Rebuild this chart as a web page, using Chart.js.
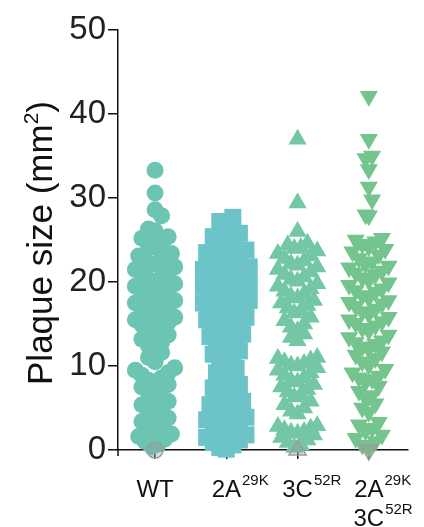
<!DOCTYPE html>
<html>
<head>
<meta charset="utf-8">
<script src="https://cdn.jsdelivr.net/npm/chart.js@4.4.1/dist/chart.umd.min.js"></script>
<style>
  html, body { margin: 0; padding: 0; background: #fff; }
  #wrap { width: 424px; height: 527px; }
</style>
</head>
<body>
<div id="wrap"><canvas id="grafica"></canvas></div>
<script>
const groups = ["WT", "2A29K", "3C52R", "2A29K 3C52R"];
const labelBase = [["WT"], ["2A"], ["3C"], ["2A", "3C"]];
const labelSup = [[""], ["29K"], ["52R"], ["29K", "52R"]];
const yTicks = [0, 10, 20, 30, 40, 50];

const wtValues = [
  33.3, 30.6, 28.6, 27.9, 26.3, 26.1, 25.4, 25.2, 24.6, 24.3, 24.1,
  23.4, 23.1, 22.8, 22.6, 22.3, 22.1,
  21.8, 21.5, 21.2, 20.9, 20.6, 20.3, 20.1,
  19.8, 19.5, 19.2, 18.9, 18.6, 18.3, 18.1,
  17.8, 17.5, 17.2, 16.9, 16.6, 16.3, 16.1,
  15.8, 15.5, 15.2, 14.9, 14.6, 14.3, 14.1,
  13.7, 13.2, 12.8, 12.4, 12.1, 11.6, 11.0, 10.5,
  9.8, 9.5, 9.2, 8.9, 8.6, 8.3, 8.1,
  7.8, 7.5, 7.2, 6.8, 6.4, 5.8, 5.4, 5.0, 4.6, 4.2,
  3.8, 3.4, 3.0, 2.6, 2.2, 1.9, 1.6, 1.3, 1.0, 0.7, 0.4
];
const a29kValues = [
  27.7, 27.2, 26.6, 25.8, 25.4, 25.0, 24.6, 24.2,
  23.8, 23.5, 23.2, 22.9, 22.6, 22.3, 22.0,
  21.8, 21.5, 21.3, 21.0, 20.7, 20.4, 20.2, 20.0,
  19.8, 19.5, 19.3, 19.0, 18.7, 18.5, 18.2, 18.0,
  17.8, 17.5, 17.2, 17.0, 16.7, 16.4, 16.2, 16.0,
  15.8, 15.5, 15.2, 15.0, 14.7, 14.4, 14.2,
  13.8, 13.5, 13.1, 12.8, 12.4, 12.1,
  11.8, 11.4, 11.0, 10.6, 10.2, 9.7, 9.2, 8.7, 8.2,
  7.8, 7.4, 7.0, 6.6, 6.2, 5.8, 5.4, 5.0, 4.7, 4.4, 4.1,
  3.9, 3.6, 3.3, 3.0, 2.7, 2.4, 2.1,
  1.8, 1.5, 1.2, 0.9, 0.6, 0.3, 0.1
];
const c52rValues = [
  37.0, 29.4, 26.0, 24.6, 24.4, 24.1, 24.0,
  23.7, 23.4, 23.1, 22.8, 22.5, 22.2, 22.0,
  21.8, 21.5, 21.2, 20.9, 20.6, 20.3, 20.1,
  19.8, 19.5, 19.2, 18.9, 18.6, 18.3, 18.1,
  17.8, 17.5, 17.2, 16.9, 16.6, 16.3,
  15.8, 15.4, 15.0, 14.6, 14.2, 13.8, 13.4, 13.0,
  11.0, 10.9, 10.7, 10.5, 10.3, 10.1, 10.0,
  9.8, 9.5, 9.2, 8.9, 8.6, 8.3, 8.1,
  7.8, 7.5, 7.2, 6.9, 6.6, 6.3, 5.8, 5.4, 5.0, 4.6, 4.3,
  2.9, 2.8, 2.6, 2.4, 2.2, 2.1, 2.0,
  1.8, 1.5, 1.2, 0.9, 0.6, 0.3
];
const doubleValues = [
  42.1, 37.0, 35.0, 34.7, 33.4, 31.3, 29.8, 28.0, 27.9,
  25.2, 25.0, 24.8, 24.5, 24.2, 23.9, 23.6, 23.2, 22.8, 22.4, 22.1,
  21.9, 21.7, 21.3, 21.1, 20.9, 20.5, 20.2,
  19.9, 19.6, 19.2, 19.0, 18.8, 18.4, 18.1,
  17.8, 17.6, 17.4, 17.1, 16.8, 16.5, 16.2,
  15.8, 15.5, 15.3, 15.1, 14.8, 14.5, 14.2,
  13.7, 13.4, 13.0, 12.8, 12.6, 12.3, 12.0,
  11.7, 11.3, 10.9, 10.5, 10.1,
  9.6, 9.2, 8.8, 8.6, 8.4, 8.1, 7.6, 7.0, 6.5, 6.2, 5.5, 5.0, 4.5,
  3.3, 3.0, 2.6, 2.3, 1.8, 1.4, 1.0, 0.6, 0.3
];
// plaques measured as zero, drawn in grey on the axis
const zeroValues = [0, null, 0, 0];

const series = [wtValues, a29kValues, c52rValues, doubleValues];
const groupColors = ["#6cc4b2", "#6cc3c8", "#73c7a5", "#74c58d"];
const pointStyles = ["circle", "rect", "triangle", "triangle"];
const rotations = [0, 0, 0, 180];
const radii = [8.5, 12, 10.5, 10.5];

const fontFamily = "'Liberation Sans', Arial, sans-serif";
const binSize = 2;      // value units per row of the swarm
const spread = 0.092;   // horizontal step between neighbours (group units)

// rows of points spread out from the centre, lowest value in the middle
function swarm(values) {
  const rows = {};
  values.forEach((v, i) => {
    const r = Math.floor(v / binSize);
    (rows[r] = rows[r] || []).push(i);
  });
  const dx = [];
  Object.values(rows).forEach(idx => {
    idx.sort((a, b) => values[a] - values[b]);
    const n = idx.length;
    idx.forEach((k, j) => {
      let pos;
      if (n % 2) pos = j === 0 ? 0 : (j % 2 ? -(j + 1) / 2 : j / 2);
      else pos = (j % 2 ? 1 : -1) * (Math.floor(j / 2) + 0.5);
      dx[k] = pos * spread;
    });
  });
  return dx;
}

const datasets = series.map((vals, g) => {
  const dx = swarm(vals);
  return {
    label: groups[g],
    data: vals.map((v, i) => ({ x: g + 1 + dx[i], y: v })),
    showLine: false,
    pointStyle: pointStyles[g],
    pointRotation: rotations[g],
    pointRadius: radii[g],
    pointBackgroundColor: groupColors[g],
    pointBorderWidth: 0,
    clip: false,
    order: 1
  };
});

const zeroIdx = zeroValues.map((v, g) => v === null ? -1 : g).filter(g => g >= 0);
datasets.unshift({
  label: "zero",
  data: zeroIdx.map(g => ({ x: g + 1, y: zeroValues[g] })),
  showLine: false,
  pointStyle: zeroIdx.map(g => pointStyles[g]),
  pointRotation: zeroIdx.map(g => rotations[g]),
  pointRadius: zeroIdx.map(g => radii[g] * 0.95),
  pointBackgroundColor: "rgba(150,150,150,0.35)",
  pointBorderColor: "#9a9a9a",
  pointBorderWidth: 1.5,
  clip: false,
  order: 0
});

// axis title and group labels with superscripts
const labelPlugin = {
  id: "labels",
  afterDraw(chart) {
    const ctx = chart.ctx;
    const xs = chart.scales.x;
    const area = chart.chartArea;
    ctx.save();

    ctx.strokeStyle = "#111";
    ctx.lineWidth = 1.5;
    ctx.beginPath();
    ctx.moveTo(area.left, area.bottom);
    ctx.lineTo(area.left, area.bottom + 6);
    ctx.stroke();

    ctx.fillStyle = "#111";
    ctx.textBaseline = "alphabetic";
    labelBase.forEach((lines, g) => {
      const cx = xs.getPixelForValue(g + 1);
      lines.forEach((base, l) => {
        const y = 497 + l * 29;
        ctx.font = "24px " + fontFamily;
        const w = ctx.measureText(base).width;
        ctx.textAlign = "left";
        ctx.fillText(base, cx - w / 2, y);
        const sup = labelSup[g][l];
        if (sup) {
          ctx.font = "15px " + fontFamily;
          ctx.fillText(sup, cx + w / 2 + 1, y - 12);
        }
      });
    });

    ctx.translate(52, 243);
    ctx.rotate(-Math.PI / 2);
    ctx.font = "35px " + fontFamily;
    const main = "Plaque size (mm";
    const mw = ctx.measureText(main).width;
    ctx.font = "21px " + fontFamily;
    const sw = ctx.measureText("2").width;
    ctx.font = "35px " + fontFamily;
    const pw = ctx.measureText(")").width;
    let x = -(mw + sw + pw) / 2;
    ctx.textAlign = "left";
    ctx.fillText(main, x, 0);
    x += mw;
    ctx.font = "21px " + fontFamily;
    ctx.fillText("2", x, -14);
    x += sw;
    ctx.font = "35px " + fontFamily;
    ctx.fillText(")", x, 0);
    ctx.restore();
  }
};

new Chart(document.getElementById("grafica"), {
  type: "scatter",
  data: { datasets },
  options: {
    responsive: true,
    maintainAspectRatio: false,
    animation: false,
    events: [],
    layout: { padding: { top: 30, right: 16, bottom: 0, left: 0 } },
    plugins: { legend: { display: false }, tooltip: { enabled: false } },
    scales: {
      x: {
        type: "linear",
        min: 0.48,
        max: 4.55,
        afterBuildTicks: ax => { ax.ticks = groups.map((_, i) => ({ value: i + 1 })); },
        afterFit: ax => { ax.height = 77; },
        ticks: { callback: () => "" },
        grid: { drawOnChartArea: false, color: "#111", lineWidth: 1.5, tickLength: 9 },
        border: { color: "#111", width: 1.5 }
      },
      y: {
        min: 0,
        max: 50,
        afterBuildTicks: ax => { ax.ticks = yTicks.map(v => ({ value: v })); },
        afterFit: ax => { ax.width = 118; },
        ticks: { font: { family: fontFamily, size: 33 }, color: "#222", padding: 2 },
        grid: { drawOnChartArea: false, color: "#111", lineWidth: 1.5, tickLength: 10 },
        border: { color: "#111", width: 1.5 }
      }
    }
  },
  plugins: [labelPlugin]
});
</script>
</body>
</html>
